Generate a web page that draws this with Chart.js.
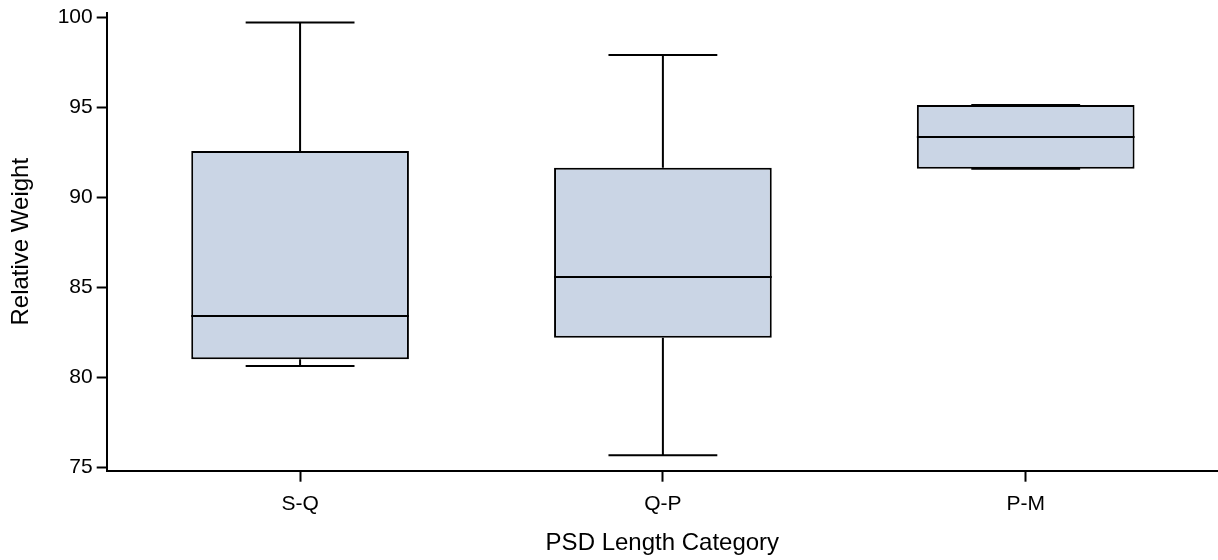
<!DOCTYPE html>
<html>
<head>
<meta charset="utf-8">
<script src="https://cdn.jsdelivr.net/npm/chart.js@4"></script>
<style>
  html, body { margin: 0; padding: 0; background: #fff; }
  #wrap { width: 1218px; height: 560px; position: relative; }
</style>
</head>
<body>
<div id="wrap"><canvas id="c"></canvas></div>
<script>
// ---- data ----
const categories = ['S-Q', 'Q-P', 'P-M'];
const xPositions = [1, 2, 3];
const whiskerLow  = [80.65, 75.69, 91.60];
const q1          = [81.02, 82.21, 91.60];
const median      = [83.42, 85.59, 93.36];
const q3          = [92.58, 91.65, 95.13];
const whiskerHigh = [99.72, 97.91, 95.13];
const yTicks = [75, 80, 85, 90, 95, 100];
const yMin = 74.83, yMax = 100.26;
const xMin = 0.467, xMax = 3.53;

const boxPlotPlugin = {
  id: 'boxWhiskers',
  afterDatasetsDraw(chart) {
    const meta = chart.getDatasetMeta(0);
    const ys = chart.scales.y;
    const ctx = chart.ctx;
    ctx.save();
    ctx.strokeStyle = '#000';
    ctx.lineWidth = 2;
    ctx.lineCap = 'butt';
    meta.data.forEach((el, i) => {
      const cx = el.x;
      const w = el.width;
      const pMed = ys.getPixelForValue(median[i]);
      const pQ1 = ys.getPixelForValue(q1[i]);
      const pQ3 = ys.getPixelForValue(q3[i]);
      const pLo = ys.getPixelForValue(whiskerLow[i]);
      const pHi = ys.getPixelForValue(whiskerHigh[i]);
      ctx.beginPath();
      ctx.moveTo(cx - w / 2, pMed); ctx.lineTo(cx + w / 2, pMed);
      ctx.moveTo(cx, pQ3); ctx.lineTo(cx, pHi);
      ctx.moveTo(cx, pQ1); ctx.lineTo(cx, pLo);
      ctx.moveTo(cx - w / 4, pHi); ctx.lineTo(cx + w / 4, pHi);
      ctx.moveTo(cx - w / 4, pLo); ctx.lineTo(cx + w / 4, pLo);
      ctx.stroke();
    });
    ctx.restore();
  }
};

const FONT = "'Liberation Sans', Arial, Helvetica, sans-serif";

new Chart(document.getElementById('c'), {
  type: 'bar',
  data: {
    datasets: [{
      data: xPositions.map((x, i) => ({ x: x, y: [q1[i], q3[i]] })),
      backgroundColor: '#cad5e5',
      borderColor: '#000',
      borderWidth: 2,
      borderSkipped: false,
      categoryPercentage: 1,
      barPercentage: 0.6
    }]
  },
  options: {
    responsive: true,
    maintainAspectRatio: false,
    animation: false,
    layout: { padding: { top: 12.7, left: 0, right: 0, bottom: 0 } },
    plugins: { legend: { display: false }, tooltip: { enabled: false } },
    scales: {
      x: {
        type: 'linear',
        offset: false,
        min: xMin,
        max: xMax,
        afterBuildTicks: s => { s.ticks = xPositions.map(v => ({ value: v })); },
        afterFit: s => { s.height = 89.3; s.paddingLeft = 0; s.paddingRight = 0; },
        ticks: {
          autoSkip: false, maxRotation: 0, minRotation: 0,
          color: '#000', padding: 10,
          font: { family: FONT, size: 21 },
          callback: v => categories[xPositions.indexOf(v)]
        },
        grid: { offset: false, drawOnChartArea: false, drawTicks: true, tickLength: 11, tickColor: '#000', tickWidth: 2, color: '#000' },
        border: { display: true, color: '#000', width: 2 },
        title: { display: true, text: 'PSD Length Category', color: '#000', font: { family: FONT, size: 24 }, padding: { top: 0, bottom: 2 } }
      },
      y: {
        type: 'linear',
        min: yMin,
        max: yMax,
        afterBuildTicks: s => { s.ticks = yTicks.map(v => ({ value: v })); },
        afterFit: s => { s.width = 106.7; s.paddingTop = 0; s.paddingBottom = 0; },
        ticks: {
          color: '#000', padding: 4,
          font: { family: FONT, size: 21 },
          callback: v => String(v)
        },
        grid: { drawOnChartArea: false, drawTicks: true, tickLength: 10, tickColor: '#000', tickWidth: 2, color: '#000' },
        border: { display: true, color: '#000', width: 2 },
        title: { display: true, text: 'Relative Weight', color: '#000', font: { family: FONT, size: 24 }, padding: { top: 7, bottom: 0 } }
      }
    }
  },
  plugins: [boxPlotPlugin]
});
</script>
</body>
</html>
